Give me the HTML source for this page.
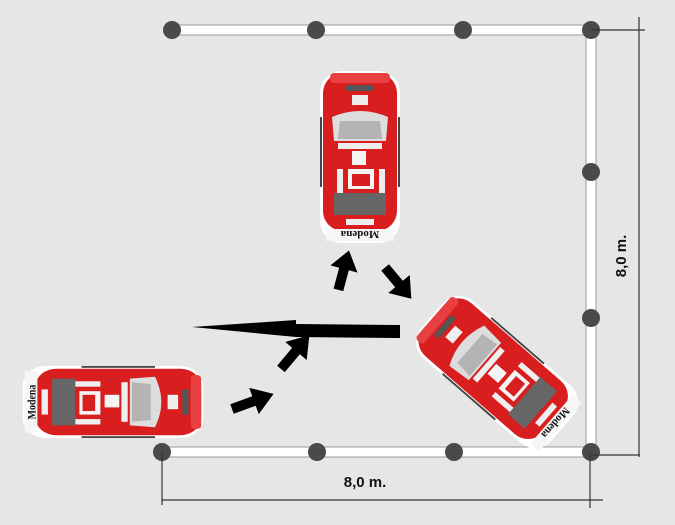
<!DOCTYPE html>
<html><head><meta charset="utf-8"><style>
html,body{margin:0;padding:0;background:#e6e6e6;}
svg{display:block}
</style></head><body>
<svg width="675" height="525" viewBox="0 0 675 525" xmlns="http://www.w3.org/2000/svg">
<defs>
<g id="car">
  <rect x="-40" y="-86" width="80" height="172" rx="22" fill="#fff"/>
  <rect x="-37" y="-84" width="74" height="158" rx="20" fill="#d81e1e"/>
  <rect x="-30" y="-84" width="60" height="10" rx="4" fill="#e84040"/>
  <rect x="-14" y="-72" width="28" height="6" fill="#555"/>
  <rect x="-8" y="-62" width="16" height="10" fill="#eee"/>
  <path d="M-28,-40 Q0,-52 28,-40 L26,-16 L-26,-16 Z" fill="#ddd"/>
  <path d="M-20,-36 L20,-36 L22,-18 L-22,-18 Z" fill="#999" opacity="0.6"/>
  <rect x="-22" y="-14" width="44" height="6" fill="#eee"/>
  <rect x="-8" y="-6" width="14" height="14" fill="#f4f4f4"/>
  <rect x="-12" y="12" width="26" height="20" fill="#f4f4f4"/>
  <rect x="-8" y="17" width="18" height="12" fill="#d81e1e"/>
  <rect x="-23" y="12" width="6" height="24" fill="#eee"/>
  <rect x="19" y="12" width="6" height="24" fill="#eee"/>
  <rect x="-26" y="36" width="52" height="22" fill="#666"/>
  <rect x="-14" y="62" width="28" height="6" fill="#eee"/>
  <rect x="-34" y="72" width="68" height="12" fill="#f6f6f6"/>
  <text x="0" y="82" font-family="Liberation Serif, serif" font-weight="bold" font-size="11" text-anchor="middle" fill="#111" transform="rotate(180 0 78)">Modena</text>
  <rect x="-40" y="-40" width="2" height="70" fill="#444"/>
  <rect x="38" y="-40" width="2" height="70" fill="#444"/>
</g>
<polygon id="arr" points="0,-16 14,0 5,0 5,18 -5,18 -5,0 -14,0" fill="#000"/>
</defs>
<!-- fence -->
<g stroke="#999" stroke-width="1" fill="#fff">
  <rect x="167" y="25" width="429" height="10"/>
  <rect x="586" y="25" width="10" height="432"/>
  <rect x="157" y="447" width="439" height="10"/>
</g>
<rect x="168" y="26" width="417" height="8" fill="#fff"/>
<rect x="587" y="26" width="8" height="430" fill="#fff"/>
<rect x="158" y="448" width="428" height="8" fill="#fff"/>
<g fill="#4a4a4a">
  <circle cx="172" cy="30" r="9"/><circle cx="316" cy="30" r="9"/><circle cx="463" cy="30" r="9"/><circle cx="591" cy="30" r="9"/>
  <circle cx="591" cy="172" r="9"/><circle cx="591" cy="318" r="9"/><circle cx="591" cy="452" r="9"/>
  <circle cx="162" cy="452" r="9"/><circle cx="317" cy="452" r="9"/><circle cx="454" cy="452" r="9"/>
</g>
<!-- dimension lines -->
<g stroke="#333" stroke-width="1.2">
  <line x1="639" y1="17" x2="639" y2="457"/>
  <line x1="591" y1="30" x2="645" y2="30"/>
  <line x1="591" y1="455" x2="640" y2="455"/>
  <line x1="162" y1="500" x2="603" y2="500"/>
  <line x1="162" y1="452" x2="162" y2="505"/>
  <line x1="590" y1="452" x2="590" y2="508"/>
</g>
<text x="365" y="487" font-family="Liberation Sans, sans-serif" font-weight="bold" font-size="15" text-anchor="middle" fill="#111">8,0 m.</text>
<text x="0" y="0" font-family="Liberation Sans, sans-serif" font-weight="bold" font-size="15" text-anchor="middle" fill="#111" transform="translate(626,256) rotate(-90)">8,0 m.</text>
<!-- cars -->
<use href="#car" transform="translate(360,157)"/>
<use href="#car" transform="translate(113,402) rotate(90) scale(0.9,1.05)"/>
<use href="#car" transform="translate(497,372) rotate(-49) scale(0.95,1)"/>
<!-- arrows -->
<polygon points="192,327 296,320 296,324 400,325 400,338 296,337 192,327" fill="#000"/>
<use href="#arr" transform="translate(344,269) rotate(15) scale(1,1.2)"/>
<use href="#arr" transform="translate(399,284) rotate(140) scale(1,1.2)"/>
<use href="#arr" transform="translate(296,351) rotate(40) scale(1,1.3)"/>
<use href="#arr" transform="translate(254,401) rotate(70) scale(1,1.3)"/>
</svg>
</body></html>
